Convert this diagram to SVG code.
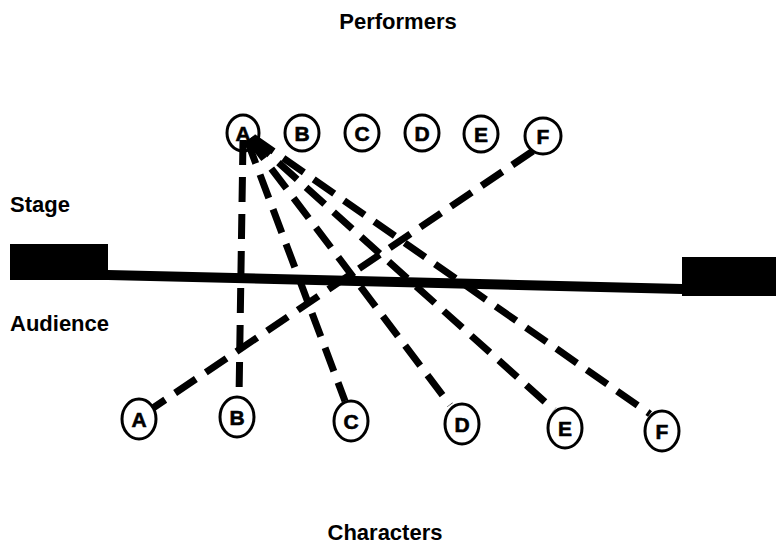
<svg xmlns="http://www.w3.org/2000/svg" width="776" height="551" viewBox="0 0 776 551">
  <style>
    .lbl { font-family: "Liberation Sans", Arial, sans-serif; font-weight: bold; font-size: 22px; fill: #000; }
    .node ellipse { fill: #fff; stroke: #000; stroke-width: 3; }
    .node text { font-family: "Liberation Sans", Arial, sans-serif; font-weight: bold; font-size: 21px; fill: #000; stroke: #000; stroke-width: 0.6; text-anchor: middle; }
    .dash { stroke: #000; stroke-width: 7; stroke-dasharray: 25 12; fill: none; }
  </style>
  <rect width="776" height="551" fill="#fff"/>

  <!-- headings -->
  <text class="lbl" x="398" y="29" text-anchor="middle">Performers</text>
  <text class="lbl" x="10" y="212">Stage</text>
  <text class="lbl" x="10" y="331">Audience</text>
  <text class="lbl" x="385" y="540" text-anchor="middle" font-size="21">Characters</text>

  <!-- stage edge -->
  <g id="stage">
    <rect x="10" y="244" width="98" height="36" fill="#000"/>
    <polygon points="108,270 682,284 682,294 108,280" fill="#000"/>
    <rect x="682" y="257" width="94" height="39" fill="#000"/>
  </g>

  <!-- performers -->
  <g id="perf-A" class="node"><ellipse cx="243" cy="133" rx="16" ry="18"/><text x="243" y="141">A</text></g>
  <g id="perf-B" class="node"><ellipse cx="302" cy="133" rx="17" ry="18"/><text x="302" y="141">B</text></g>
  <g id="perf-C" class="node"><ellipse cx="362" cy="133" rx="17" ry="18"/><text x="362" y="141">C</text></g>
  <g id="perf-D" class="node"><ellipse cx="422" cy="133" rx="17" ry="18"/><text x="422" y="141">D</text></g>
  <g id="perf-E" class="node"><ellipse cx="481" cy="134" rx="17" ry="18"/><text x="481" y="142">E</text></g>
  <g id="perf-F" class="node"><ellipse cx="543" cy="136" rx="18" ry="18"/><text x="543" y="144">F</text></g>

  <!-- connectors: performers to characters, fanning out of performer A -->
  <g id="connectors">
    <line class="dash" x1="243" y1="140" x2="239" y2="398"/>
    <line class="dash" x1="247" y1="140" x2="345" y2="401"/>
    <line class="dash" x1="249" y1="139" x2="450" y2="405"/>
    <line class="dash" x1="251" y1="138" x2="554" y2="410"/>
    <line class="dash" x1="253" y1="137" x2="650" y2="414"/>
    <line class="dash" x1="533" y1="151" x2="153" y2="408"/>
  </g>

  <!-- characters -->
  <g id="char-A" class="node"><ellipse cx="139" cy="419" rx="17" ry="20"/><text x="139" y="427">A</text></g>
  <g id="char-B" class="node"><ellipse cx="237" cy="417" rx="17" ry="20"/><text x="237" y="425">B</text></g>
  <g id="char-C" class="node"><ellipse cx="351" cy="421" rx="17" ry="20"/><text x="351" y="429">C</text></g>
  <g id="char-D" class="node"><ellipse cx="462" cy="424" rx="17" ry="20"/><text x="462" y="432">D</text></g>
  <g id="char-E" class="node"><ellipse cx="565" cy="428" rx="17" ry="20"/><text x="565" y="436">E</text></g>
  <g id="char-F" class="node"><ellipse cx="662" cy="431" rx="17" ry="20"/><text x="662" y="439">F</text></g>
</svg>
